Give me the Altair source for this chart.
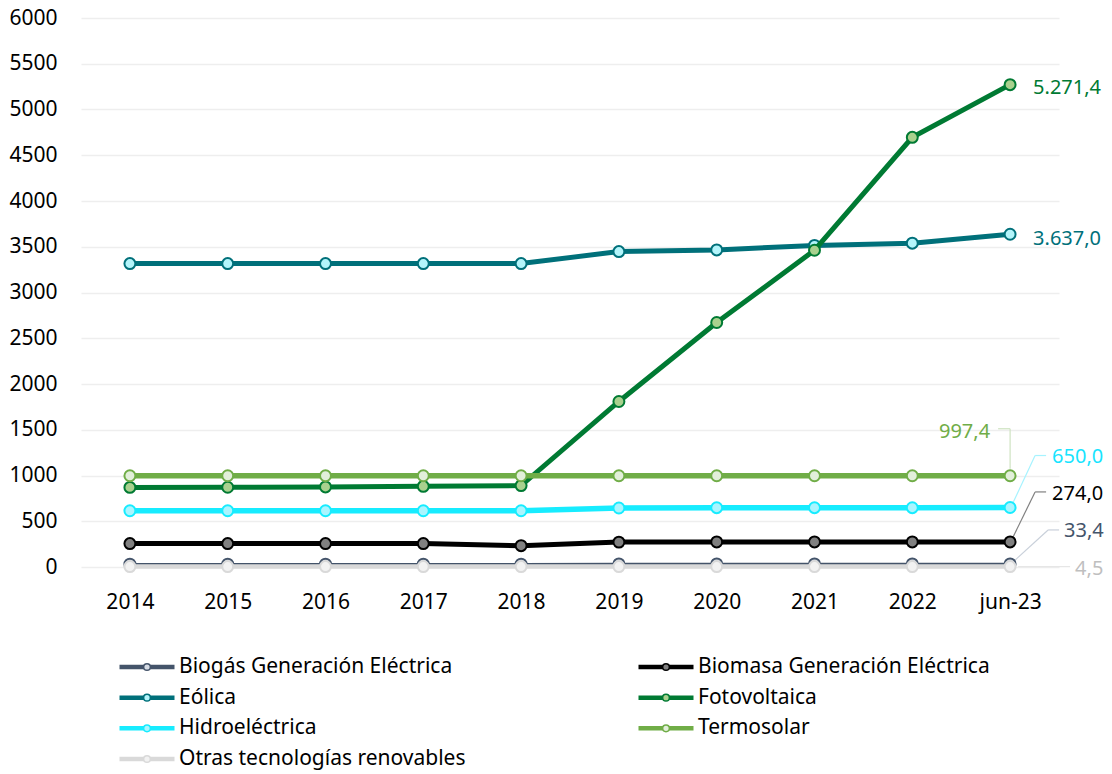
import altair as alt
import pandas as pd

categories = ["2014", "2015", "2016", "2017", "2018", "2019", "2020", "2021", "2022", "jun-23"]
series_names = [
    "Biogás Generación Eléctrica",
    "Biomasa Generación Eléctrica",
    "Eólica",
    "Fotovoltaica",
    "Hidroeléctrica",
    "Termosolar",
    "Otras tecnologías renovables",
]
biogas = [31.0, 31.0, 31.0, 31.0, 31.0, 33.4, 33.4, 33.4, 33.4, 33.4]
biomasa = [256.0, 256.0, 256.0, 256.0, 233.0, 272.0, 274.0, 274.0, 274.0, 274.0]
eolica = [3316.0, 3316.0, 3316.0, 3316.0, 3316.0, 3447.0, 3465.0, 3515.0, 3539.0, 3637.0]
fotovoltaica = [870.0, 872.0, 875.0, 882.0, 890.0, 1809.0, 2672.0, 3462.0, 4696.0, 5271.4]
hidroelectrica = [615.0, 615.0, 615.0, 615.0, 615.0, 645.0, 648.0, 648.0, 648.0, 650.0]
termosolar = [997.4, 997.4, 997.4, 997.4, 997.4, 997.4, 997.4, 997.4, 997.4, 997.4]
otras = [4.5, 4.5, 4.5, 4.5, 4.5, 4.5, 4.5, 4.5, 4.5, 4.5]
y_ticks = [0, 500, 1000, 1500, 2000, 2500, 3000, 3500, 4000, 4500, 5000, 5500, 6000]

series_values = [biogas, biomasa, eolica, fotovoltaica, hidroelectrica, termosolar, otras]

# styles
line_colors = ["#44546a", "#000000", "#00707a", "#007a33", "#17ecff", "#70ad47", "#d9d9d9"]
fill_colors = ["#d6dce5", "#808080", "#b3f5fb", "#a9d18e", "#aaf5ff", "#e2efda", "#f2f2f2"]
line_widths = [2.5, 5, 5, 5, 5.5, 5.5, 4.5]
label_colors = ["#44546a", "#000000", "#00707a", "#007a33", "#17e4ff", "#70ad47", "#bfbfbf"]
FONT = "Noto Sans"
FS = 21
FS_LBL = 20

rows = []
for k, (name, vals) in enumerate(zip(series_names, series_values)):
    for c, v in zip(categories, vals):
        rows.append({"cat": c, "val": v, "series": name, "k": k})
df = pd.DataFrame(rows)

leg_df = pd.DataFrame({
    "series": series_names,
    "col": [i % 2 for i in range(len(series_names))],
    "row": [i // 2 for i in range(len(series_names))],
})

X = alt.X("cat:N", sort=categories,
          scale=alt.Scale(type="point", padding=0.5, domain=categories),
          axis=alt.Axis(title=None, labelAngle=0, ticks=False, domain=False, grid=False,
                        labelPadding=24, labelFontSize=FS, labelFont=FONT, labelColor="#000000"))
Y = alt.Y("val:Q", scale=alt.Scale(domain=[0, 6000], nice=False, zero=True),
          axis=alt.Axis(title=None, values=y_ticks, format="d", ticks=False, domain=False,
                        grid=True, gridColor="#eeeeee", gridWidth=1.5,
                        labelPadding=24, labelFontSize=FS, labelFont=FONT, labelColor="#000000"))
COLOR = alt.Color("series:N", scale=alt.Scale(domain=series_names, range=line_colors), legend=None)
FILL = alt.Fill("series:N", scale=alt.Scale(domain=series_names, range=fill_colors), legend=None)
STROKE = alt.Stroke("series:N", scale=alt.Scale(domain=series_names, range=line_colors), legend=None)

base = alt.Chart(df)
last = base.transform_filter(alt.datum.cat == "jun-23")

label_expr = ("replace(replace(replace(format(datum.val, ',.1f'), ',', '|'), '.', ','), '|', '.')")

# leader line offsets per series (segments in px relative to last point)
leaders = {
    5: [(0, -7, 0, -47), (0, -47, -12, -47)],
    4: [(3, -5, 25, -52), (25, -52, 36, -52)],
    1: [(3, -5, 25, -50), (25, -50, 36, -50)],
    0: [(3, -2, 38, -34), (38, -34, 49, -34)],
    6: [(8, 0, 60, 0)],
}
leader_colors = {5: "#cfe3c2", 4: "#a6f3ff", 1: "#808080", 0: "#c9d0da", 6: "#e6e6e6"}
label_pos = {
    0: ("left", 54, -33),
    1: ("left", 42, -48),
    2: ("left", 23, 5),
    3: ("left", 23, 3),
    4: ("left", 42, -51),
    5: ("right", -20, -44),
    6: ("left", 65, 2),
}

layers = []
# leader lines beneath the series
for k, segs in leaders.items():
    for (a, b, c, d) in segs:
        layers.append(
            last.transform_filter(alt.datum.k == k).mark_rule(
                color=leader_colors[k], strokeWidth=1.2,
                xOffset=a, yOffset=b, x2Offset=c, y2Offset=d,
            ).encode(x=X, y=Y, x2=alt.X2("cat"), y2=alt.Y2("val"))
        )

for k in range(len(series_names)):
    sub = base.transform_filter(alt.datum.k == k)
    layers.append(sub.mark_line(strokeWidth=line_widths[k]).encode(x=X, y=Y, color=COLOR))
    layers.append(sub.mark_circle(size=120, strokeWidth=2, opacity=1).encode(
        x=X, y=Y, fill=FILL, stroke=STROKE))

for k in range(len(series_names)):
    align, dx, dy = label_pos[k]
    layers.append(
        last.transform_filter(alt.datum.k == k).transform_calculate(lbl=label_expr).mark_text(
            align=align, baseline="middle", dx=dx, dy=dy, fontSize=FS_LBL, font=FONT,
            color=label_colors[k],
        ).encode(x=X, y=Y, text="lbl:N")
    )

main = alt.layer(*layers)

LX = alt.X("col:Q", scale=alt.Scale(domain=[0, 1], range=[66, 585]), axis=None)
LY = alt.Y("row:Q", scale=alt.Scale(domain=[0, 3], range=[649, 741]), axis=None)
lbase = alt.Chart(leg_df)
legend = alt.layer(
    lbase.mark_tick(orient="horizontal", size=55, thickness=4.5, opacity=1).encode(x=LX, y=LY, color=COLOR),
    lbase.mark_circle(size=45, strokeWidth=1.5, opacity=1).encode(x=LX, y=LY, fill=FILL, stroke=STROKE),
    lbase.mark_text(align="left", baseline="middle", dx=32, fontSize=FS, font=FONT, color="#000000").encode(
        x=LX, y=LY, text="series:N"),
)

chart = alt.layer(main, legend).resolve_scale(x="independent", y="independent").properties(
    width=978, height=549,
    autosize=alt.AutoSizeParams(type="none"),
    padding={"left": 73, "top": 10, "right": 45, "bottom": 203},
).configure(font=FONT, view=alt.ViewConfig(stroke=None))

chart.save("out.html", embed_options={"renderer": "svg", "actions": False})
